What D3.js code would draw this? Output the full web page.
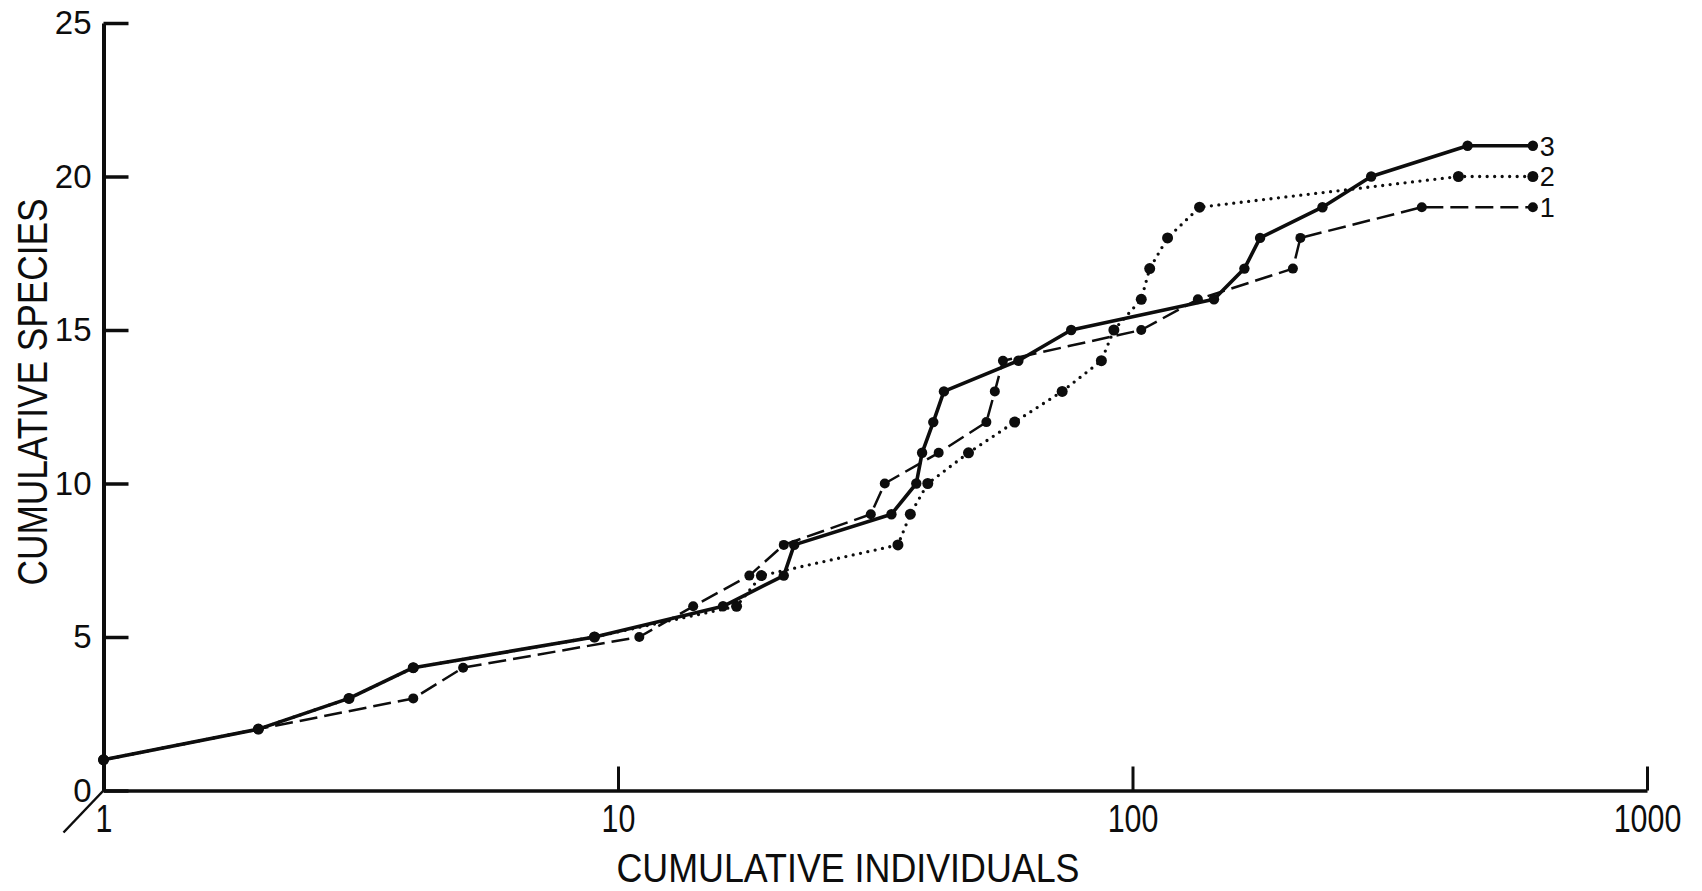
<!DOCTYPE html>
<html>
<head>
<meta charset="utf-8">
<script src="https://cdn.jsdelivr.net/npm/d3@7"></script>
<style>
  html, body { margin: 0; padding: 0; background: #ffffff; }
  svg { display: block; }
</style>
</head>
<body>
<svg id="chart" width="1702" height="891"></svg>
<script>
// ---------- data ----------
const xTickValues = [1, 10, 100, 1000];
const yTickValues = [0, 5, 10, 15, 20, 25];
const xTitle = "CUMULATIVE INDIVIDUALS";
const yTitle = "CUMULATIVE SPECIES";

// Series 1 (dashed)
const series1Label = "1";
const series1X = [1, 2, 4, 5, 11, 14, 18, 21, 31, 33, 42, 52, 54, 56, 104, 134, 205, 212, 365, 600];
const series1Y = [1, 2, 3, 4, 5, 6, 7, 8, 9, 10, 11, 12, 13, 14, 15, 16, 17, 18, 19, 19];

// Series 2 (dotted)
const series2Label = "2";
const series2X = [1, 2, 3, 4, 9, 17, 19, 35, 37, 40, 48, 59, 73, 87, 92, 104, 108, 117, 135, 430, 600];
const series2Y = [1, 2, 3, 4, 5, 6, 7, 8, 9, 10, 11, 12, 13, 14, 15, 16, 17, 18, 19, 20, 20];

// Series 3 (solid)
const series3Label = "3";
const series3X = [1, 2, 3, 4, 9, 16, 21, 22, 34, 38, 39, 41, 43, 60, 76, 144, 165, 177, 234, 291, 448, 600];
const series3Y = [1, 2, 3, 4, 5, 6, 7, 8, 9, 10, 11, 12, 13, 14, 15, 16, 17, 18, 19, 20, 21, 21];

// ---------- drawing ----------
const ink = "#0d0d0d";
const font = "'Liberation Sans', Arial, sans-serif";
const svg = d3.select("#chart");

const x = d3.scaleLog().domain([1, 1000]).range([103.5, 1647]);
const y = d3.scaleLinear().domain([0, 25]).range([790.5, 23]);

// y axis: ticks pointing inward, labels on the left
const gy = svg.append("g")
  .attr("transform", `translate(${x(1)},0)`)
  .call(d3.axisLeft(y).tickValues(yTickValues).tickSizeInner(-25).tickSizeOuter(0).tickPadding(12).tickFormat(d3.format("d")));
gy.select(".domain").attr("stroke", ink).attr("stroke-width", 4);
gy.selectAll(".tick line").attr("stroke", ink).attr("stroke-width", 3.5);
gy.selectAll(".tick text").attr("fill", ink).style("font-family", font).style("font-size", "33px");

// x axis: ticks pointing up, labels below
const gx = svg.append("g")
  .attr("transform", `translate(0,${y(0)})`)
  .call(d3.axisBottom(x).tickValues(xTickValues).tickSizeInner(-24).tickSizeOuter(0).tickPadding(15).tickFormat(d3.format("d")));
gx.select(".domain").attr("stroke", ink).attr("stroke-width", 3.5);
gx.selectAll(".tick line").attr("stroke", ink).attr("stroke-width", 3);
gx.selectAll(".tick text").attr("fill", ink).style("font-family", font).style("font-size", "38px")
  .each(function () {
    const w = this.getComputedTextLength();
    d3.select(this).attr("textLength", w * 0.8).attr("lengthAdjust", "spacingAndGlyphs");
  });

// axis break slash at the origin
svg.append("path")
  .attr("d", d3.line()([[x(1), y(0)], [x(1) - 40, y(0) + 42]]))
  .attr("stroke", ink).attr("stroke-width", 2.5).attr("fill", "none");

// titles
svg.append("text")
  .attr("x", 848).attr("y", 882)
  .attr("text-anchor", "middle")
  .attr("textLength", 463).attr("lengthAdjust", "spacingAndGlyphs")
  .style("font-family", font).style("font-size", "40px").attr("fill", ink)
  .text(xTitle);

svg.append("text")
  .attr("transform", "translate(47,392) rotate(-90)")
  .attr("text-anchor", "middle")
  .attr("textLength", 387).attr("lengthAdjust", "spacingAndGlyphs")
  .style("font-family", font).style("font-size", "42px").attr("fill", ink)
  .text(yTitle);

// series
const seriesList = [
  { label: series2Label, xs: series2X, ys: series2Y, width: 3.3, dash: "0,7.5", cap: "round", r: 5.5 },
  { label: series1Label, xs: series1X, ys: series1Y, width: 2.5, dash: "18,7", cap: "butt", r: 5 },
  { label: series3Label, xs: series3X, ys: series3Y, width: 3.6, dash: null, cap: "round", r: 5.2 }
];

const line = d3.line().x(d => x(d[0])).y(d => y(d[1]));

seriesList.forEach(s => {
  const pts = s.xs.map((v, i) => [v, s.ys[i]]);
  svg.append("path")
    .datum(pts)
    .attr("d", line)
    .attr("fill", "none")
    .attr("stroke", ink)
    .attr("stroke-width", s.width)
    .attr("stroke-linecap", s.cap)
    .attr("stroke-linejoin", "round")
    .attr("stroke-dasharray", s.dash);
  svg.append("g").selectAll("circle")
    .data(pts).join("circle")
    .attr("cx", d => x(d[0])).attr("cy", d => y(d[1]))
    .attr("r", s.r).attr("fill", ink);
  const last = pts[pts.length - 1];
  svg.append("text")
    .attr("x", x(last[0]) + 7).attr("y", y(last[1]))
    .attr("dy", "0.36em")
    .style("font-family", font).style("font-size", "27px").attr("fill", ink)
    .text(s.label);
});
</script>
</body>
</html>
